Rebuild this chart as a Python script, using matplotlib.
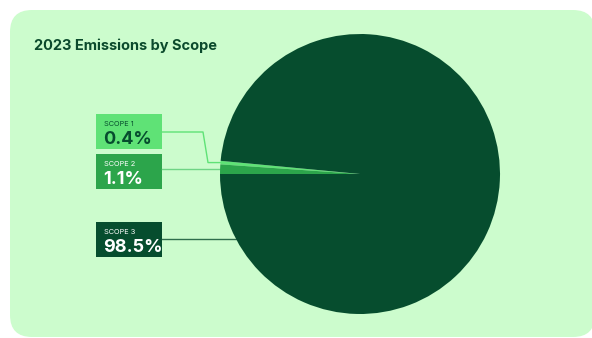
import numpy as np
import matplotlib
matplotlib.use("Agg")
import matplotlib.pyplot as plt
from matplotlib.patches import FancyBboxPatch, Rectangle

# data
title = "2023 Emissions by Scope"
scopes = ["SCOPE 1", "SCOPE 2", "SCOPE 3"]
shares = [0.4, 1.1, 98.5]
colors = ["#5fe276", "#2ca54b", "#064d2e"]
text_colors = ["#064d2e", "white", "white"]

W, H = 592, 338
card_bg = "#ccfccd"
dark = "#0b4a2c"

plt.rcParams["font.family"] = ["Inter", "DejaVu Sans"]

fig = plt.figure(figsize=(W / 100, H / 100), dpi=100)
fig.patch.set_facecolor("white")

# overlay axes in pixel units (y down)
bg = fig.add_axes([0, 0, 1, 1], zorder=0)
bg.set_xlim(0, W)
bg.set_ylim(H, 0)
bg.axis("off")

bg.add_patch(FancyBboxPatch((10, 10), 585, 327, boxstyle="round,pad=0,rounding_size=22",
                            facecolor=card_bg, edgecolor="none"))
bg.text(34, 50, title, fontsize=10.5, fontweight="bold", color=dark, ha="left", va="baseline")

# pie
cx, cy, r = 360, 174, 140
pax = fig.add_axes([(cx - r) / W, (H - cy - r) / H, 2 * r / W, 2 * r / H], zorder=1)
start = 180 - (shares[0] + shares[1]) * 3.6
wedges, _ = pax.pie(shares, colors=colors, startangle=start, counterclock=True,
                    wedgeprops=dict(linewidth=0))
pax.set_xlim(-1, 1)
pax.set_ylim(-1, 1)
pax.axis("off")


def edge_point(theta):
    t = np.deg2rad(theta)
    return cx + r * np.cos(t), cy - r * np.sin(t)


# label boxes
box_x, box_w, box_h = 96, 66, 35
box_tops = [114, 154, 222]
for i, (name, val) in enumerate(zip(scopes, shares)):
    top = box_tops[i]
    bg.add_patch(Rectangle((box_x, top), box_w, box_h, facecolor=colors[i], edgecolor="none"))
    bg.text(box_x + 8, top + 12, name, fontsize=5.3, color=text_colors[i],
            ha="left", va="baseline")
    bg.text(box_x + 7.5, top + 30, f"{val}%", fontsize=13, fontweight="bold",
            color=text_colors[i], ha="left", va="baseline")

# leader lines
mid1 = (wedges[0].theta1 + wedges[0].theta2) / 2
ex, ey = edge_point(mid1)
y1 = box_tops[0] + 18
bg.plot([box_x + box_w, 203, 208, ex], [y1, y1, ey, ey], color=colors[0], lw=1)

mid2 = (wedges[1].theta1 + wedges[1].theta2) / 2
ex, ey = edge_point(mid2)
bg.plot([box_x + box_w, ex], [ey, ey], color="#6fd485", lw=1)

y3 = box_tops[2] + 17
ex3 = cx - np.sqrt(r ** 2 - (y3 - cy) ** 2)
bg.plot([box_x + box_w, ex3], [y3, y3], color="#2f6e4c", lw=1)

fig.savefig("out.png", dpi=100, facecolor="white")
